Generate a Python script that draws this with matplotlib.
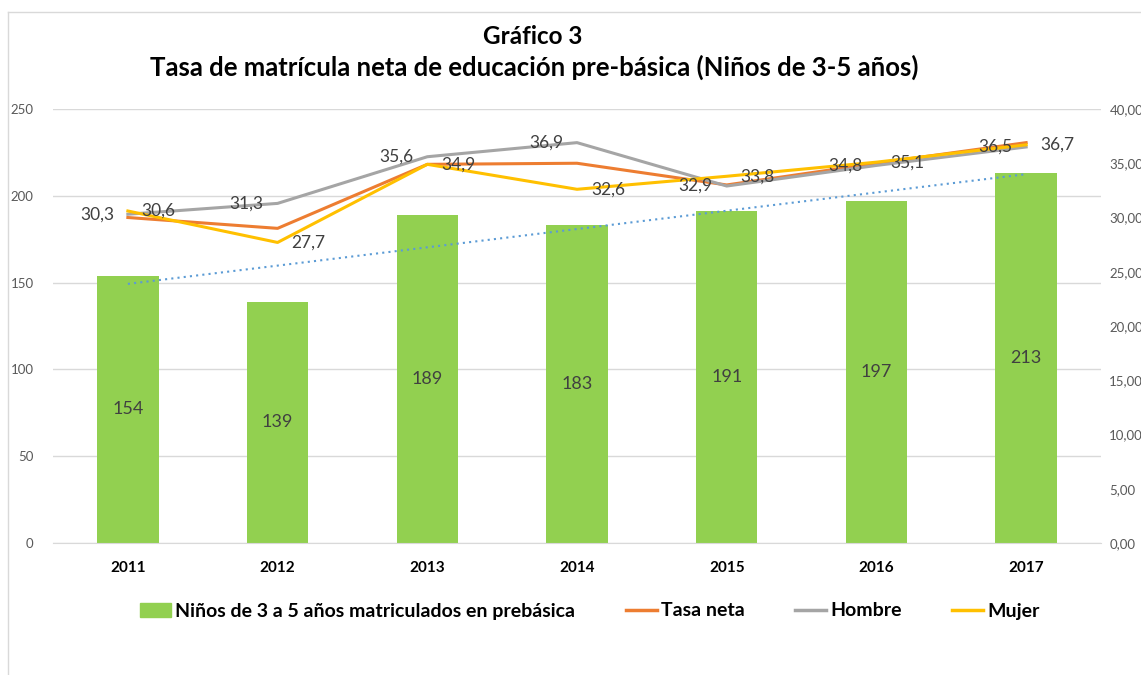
import numpy as np
import matplotlib
matplotlib.use("Agg")
import matplotlib.pyplot as plt
from matplotlib.lines import Line2D
from matplotlib.patches import Patch

plt.rcParams['font.family'] = ['Lato', 'DejaVu Sans']

years = ['2011', '2012', '2013', '2014', '2015', '2016', '2017']
matriculados = [154, 139, 189, 183, 191, 197, 213]
tasa_neta = [30.0, 29.0, 34.9, 35.0, 33.0, 35.0, 36.9]
hombre = [30.3, 31.3, 35.6, 36.9, 32.9, 34.8, 36.5]
mujer = [30.6, 27.7, 34.9, 32.6, 33.8, 35.1, 36.7]

c_bar = '#92D050'
c_tasa = '#ED7D31'
c_hom = '#A5A5A5'
c_muj = '#FFC000'
c_trend = '#5B9BD5'
c_txt = '#404040'

x = np.arange(len(years))

fig = plt.figure(figsize=(11.41, 6.75), dpi=100)
# chart border (Excel style)
fig.add_artist(Line2D([8/1141, 8/1141], [0, 1 - 12/675], color='#D9D9D9', lw=1))
fig.add_artist(Line2D([8/1141, 1], [1 - 12/675, 1 - 12/675], color='#D9D9D9', lw=1))

ax = fig.add_axes([53/1141, 1 - 543/675, 1048/1141, 434/675])
ax.bar(x, matriculados, width=0.41, color=c_bar, zorder=2)
for xi, v in zip(x, matriculados):
    ax.text(xi, v / 2, str(v), ha='center', va='center', fontsize=13, color=c_txt, zorder=5)

# linear trendline of the bars
coef = np.polyfit(x, matriculados, 1)
ax.plot(x, np.polyval(coef, x), color=c_trend, lw=1.5, ls=(0, (1, 2)), zorder=3)

ax.set_xlim(-0.5, 6.5)
ax.set_ylim(0, 250)
ax.set_yticks(range(0, 251, 50))
ax.yaxis.grid(True, color='#D9D9D9', lw=1)
ax.set_axisbelow(True)
ax.set_xticks(x)
ax.set_xticklabels(years, fontweight='bold', fontsize=11, color='black')
ax.tick_params(axis='x', length=0, pad=13)
ax.tick_params(axis='y', length=0, pad=14, labelsize=9.5, labelcolor='#595959')
for s in ax.spines.values():
    s.set_visible(False)
ax.spines['bottom'].set_visible(True)
ax.spines['bottom'].set_color('#D9D9D9')

ax2 = ax.twinx()
ax2.plot(x, tasa_neta, color=c_tasa, lw=2.2, zorder=4)
ax2.plot(x, hombre, color=c_hom, lw=2.2, zorder=4)
ax2.plot(x, mujer, color=c_muj, lw=2.2, zorder=4)
ax2.set_ylim(0, 40)
ax2.set_yticks(range(0, 41, 5))
ax2.set_yticklabels([f'{v},00' for v in range(0, 41, 5)])
ax2.tick_params(axis='y', length=0, pad=6, labelsize=9.5, labelcolor='#595959')
for s in ax2.spines.values():
    s.set_visible(False)

for xi, v in zip(x, hombre):
    ax2.annotate(f'{v:.1f}'.replace('.', ','), (xi, v), xytext=(-10, 0), textcoords='offset points',
                 ha='right', va='center', fontsize=12.5, color=c_txt, zorder=6)
for xi, v in zip(x, mujer):
    ax2.annotate(f'{v:.1f}'.replace('.', ','), (xi, v), xytext=(10, 0), textcoords='offset points',
                 ha='left', va='center', fontsize=12.5, color=c_txt, zorder=6)

fig.text(533/1141, 1 - 37/675, 'Gráfico 3', ha='center', va='center', fontsize=17.5, fontweight='bold')
fig.text(534/1141, 1 - 67/675, 'Tasa de matrícula neta de educación pre-básica (Niños de 3-5 años)',
         ha='center', va='center', fontsize=18.5, fontweight='bold')

handles = [Patch(color=c_bar),
           Line2D([], [], color=c_tasa, lw=2.5),
           Line2D([], [], color=c_hom, lw=2.5),
           Line2D([], [], color=c_muj, lw=2.5)]
labels = ['Niños de 3 a 5 años matriculados en prebásica', 'Tasa neta', 'Hombre', 'Mujer']
leg = fig.legend(handles, labels, loc='center', bbox_to_anchor=(590/1141, 1 - 611/675), ncol=4,
                 frameon=False, handlelength=1.6, handletextpad=0.2, columnspacing=2.6,
                 prop={'weight': 'bold', 'size': 14})

fig.savefig('out.png', dpi=100)
